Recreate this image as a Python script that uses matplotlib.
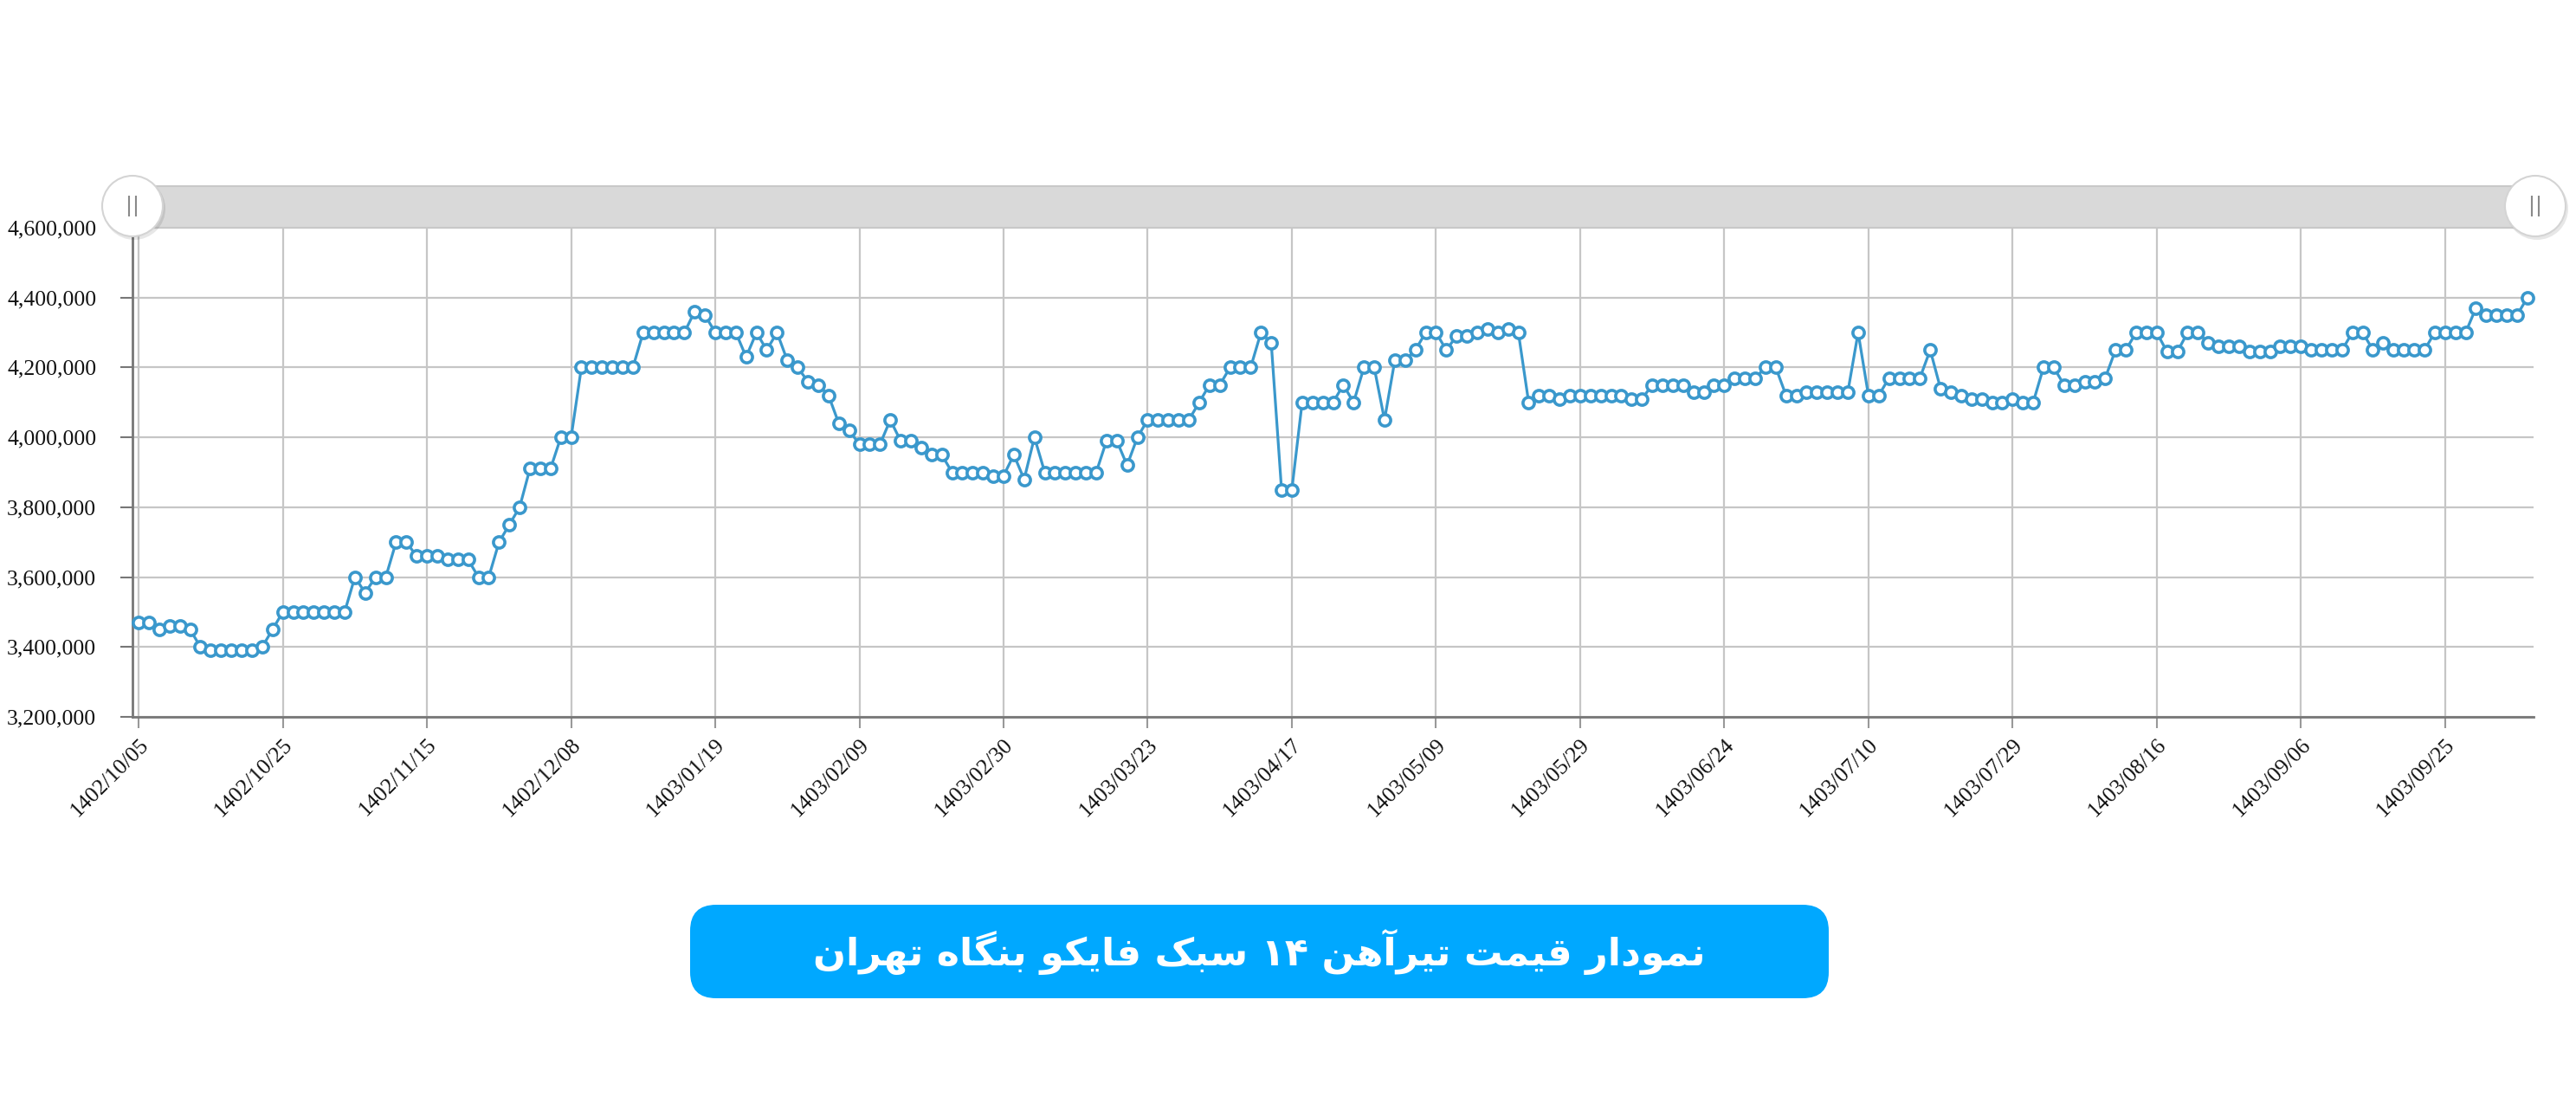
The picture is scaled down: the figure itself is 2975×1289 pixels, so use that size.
import matplotlib
matplotlib.use("Agg")
import matplotlib.pyplot as plt
from matplotlib.patches import Rectangle, Circle, FancyBboxPatch
from matplotlib.ticker import FuncFormatter, FixedLocator
import matplotlib.transforms as mtransforms

# ---------------- data (prices in Rials) ----------------
tick_labels = ['1402/10/05', '1402/10/25', '1402/11/15', '1402/12/08', '1403/01/19',
               '1403/02/09', '1403/02/30', '1403/03/23', '1403/04/17', '1403/05/09',
               '1403/05/29', '1403/06/24', '1403/07/10', '1403/07/29', '1403/08/16',
               '1403/09/06', '1403/09/25']
label_step = 14  # one labelled date every 14 trading days

prices_k = [
    3470, 3470, 3450, 3460, 3460, 3450, 3400, 3390, 3390, 3390, 3390, 3390, 3400, 3450,
    3500, 3500, 3500, 3500, 3500, 3500, 3500, 3600, 3555, 3600, 3600, 3700, 3700, 3660,
    3660, 3660, 3650, 3650, 3650, 3600, 3600, 3700, 3750, 3800, 3910, 3910, 3910, 4000,
    4000, 4200, 4200, 4200, 4200, 4200, 4200, 4300, 4300, 4300, 4300, 4300, 4360, 4350,
    4300, 4300, 4300, 4230, 4300, 4250, 4300, 4220, 4200, 4160, 4150, 4120, 4040, 4020,
    3980, 3980, 3980, 4050, 3990, 3990, 3970, 3950, 3950, 3900, 3900, 3900, 3900, 3890,
    3890, 3950, 3880, 4000, 3900, 3900, 3900, 3900, 3900, 3900, 3990, 3990, 3920, 4000,
    4050, 4050, 4050, 4050, 4050, 4100, 4150, 4150, 4200, 4200, 4200, 4300, 4270, 3850,
    3850, 4100, 4100, 4100, 4100, 4150, 4100, 4200, 4200, 4050, 4220, 4220, 4250, 4300,
    4300, 4250, 4290, 4290, 4300, 4310, 4300, 4310, 4300, 4100, 4120, 4120, 4110, 4120,
    4120, 4120, 4120, 4120, 4120, 4110, 4110, 4150, 4150, 4150, 4150, 4130, 4130, 4150,
    4150, 4170, 4170, 4170, 4200, 4200, 4120, 4120, 4130, 4130, 4130, 4130, 4130, 4300,
    4120, 4120, 4170, 4170, 4170, 4170, 4250, 4140, 4130, 4120, 4110, 4110, 4100, 4100,
    4110, 4100, 4100, 4200, 4200, 4150, 4150, 4160, 4160, 4170, 4250, 4250, 4300, 4300,
    4300, 4245, 4245, 4300, 4300, 4270, 4260, 4260, 4260, 4245, 4245, 4245, 4260, 4260,
    4260, 4250, 4250, 4250, 4250, 4300, 4300, 4250, 4270, 4250, 4250, 4250, 4250, 4300,
    4300, 4300, 4300, 4370, 4350, 4350, 4350, 4350, 4400,
]
prices = [p * 1000 for p in prices_k]

y_ticks = [3200000, 3400000, 3600000, 3800000, 4000000, 4200000, 4400000, 4600000]

title_text = "نمودار قیمت تیرآهن ۱۴ سبک فایکو بنگاه تهران"

# ---------------- simple Persian shaping (presentation forms + visual order) ----------------
FORMS = {
    '\u0627': ('\uFE8D', '\uFE8E', None, None),
    '\u0622': ('\uFE81', '\uFE82', None, None),
    '\u0628': ('\uFE8F', '\uFE90', '\uFE91', '\uFE92'),
    '\u062A': ('\uFE95', '\uFE96', '\uFE97', '\uFE98'),
    '\u062F': ('\uFEA9', '\uFEAA', None, None),
    '\u0631': ('\uFEAD', '\uFEAE', None, None),
    '\u0633': ('\uFEB1', '\uFEB2', '\uFEB3', '\uFEB4'),
    '\u0641': ('\uFED1', '\uFED2', '\uFED3', '\uFED4'),
    '\u0642': ('\uFED5', '\uFED6', '\uFED7', '\uFED8'),
    '\u0645': ('\uFEE1', '\uFEE2', '\uFEE3', '\uFEE4'),
    '\u0646': ('\uFEE5', '\uFEE6', '\uFEE7', '\uFEE8'),
    '\u0647': ('\uFEE9', '\uFEEA', '\uFEEB', '\uFEEC'),
    '\u0648': ('\uFEED', '\uFEEE', None, None),
    '\u06CC': ('\uFBFC', '\uFBFD', '\uFBFE', '\uFBFF'),
    '\u06A9': ('\uFB8E', '\uFB8F', '\uFB90', '\uFB91'),
    '\u06AF': ('\uFB92', '\uFB93', '\uFB94', '\uFB95'),
}


def shape_persian(s):
    out = []
    for i, c in enumerate(s):
        if c not in FORMS:
            out.append(c)
            continue
        prev = s[i - 1] if i > 0 else ''
        nxt = s[i + 1] if i + 1 < len(s) else ''
        jp = prev in FORMS and FORMS[prev][2] is not None
        jn = FORMS[c][2] is not None and nxt in FORMS
        iso, fin, ini, med = FORMS[c]
        if jp and jn:
            out.append(med)
        elif jp:
            out.append(fin)
        elif jn:
            out.append(ini)
        else:
            out.append(iso)
    vis = ''.join(out)[::-1]
    # keep digit runs left-to-right
    res, run = [], []
    for ch in vis:
        if ch.isdigit():
            run.append(ch)
        else:
            if run:
                res.extend(run[::-1])
                run = []
            res.append(ch)
    if run:
        res.extend(run[::-1])
    return ''.join(res)


# ---------------- figure ----------------
W, H = 2975, 1289
fig = plt.figure(figsize=(W / 100, H / 100), dpi=100)
fig.patch.set_facecolor('white')

left_px, right_px, bottom_px, top_px = 153, 2926, 828, 263
ax = fig.add_axes([left_px / W, 1 - bottom_px / H,
                   (right_px - left_px) / W, (bottom_px - top_px) / H])

x = list(range(len(prices)))
ax.plot(x, prices, color='#3a98cc', lw=2.3, marker='o', markersize=9.5,
        markerfacecolor='white', markeredgecolor='#3a98cc', markeredgewidth=2.6,
        zorder=3, clip_on=False)

ax.set_xlim(-0.6, 232.6)
ax.set_ylim(3200000, 4600000)

ax.yaxis.set_major_locator(FixedLocator(y_ticks))
ax.yaxis.set_major_formatter(FuncFormatter(lambda v, p: f"{int(v):,}"))
tick_pos = [i * label_step for i in range(len(tick_labels))]
ax.set_xticks(tick_pos)
ax.set_xticklabels(tick_labels, rotation=45, ha='right', va='top',
                   rotation_mode='anchor')

for lab in ax.get_xticklabels() + ax.get_yticklabels():
    lab.set_fontfamily('Liberation Serif')
    lab.set_fontsize(18.5)
    lab.set_color('#111111')

offset = mtransforms.ScaledTranslation(6 / 100, 0, fig.dpi_scale_trans)
for lab in ax.get_xticklabels():
    lab.set_transform(lab.get_transform() + offset)

ax.tick_params(axis='y', length=10, width=1.5, color='#777777', pad=20)
ax.tick_params(axis='x', length=9, width=1.5, color='#999999', pad=6)

ax.grid(True, color='#c6c6c6', lw=1.6, zorder=0)
for s in ['top', 'right']:
    ax.spines[s].set_visible(False)
for s in ['left', 'bottom']:
    ax.spines[s].set_color('#777777')
    ax.spines[s].set_linewidth(2)

# ---------------- overlay (scrollbar + title box) ----------------
ov = fig.add_axes([0, 0, 1, 1], zorder=5)
ov.set_xlim(0, W)
ov.set_ylim(H, 0)
ov.axis('off')
ov.patch.set_alpha(0)

ov.add_patch(Rectangle((153, 215), 2775, 48, facecolor='#d9d9d9',
                       edgecolor='#c8c8c8', lw=1.5))
for cx in (153, 2928):
    ov.add_patch(Circle((cx + 2, 241), 36, facecolor='#00000018', edgecolor='none'))
    ov.add_patch(Circle((cx, 238), 35, facecolor='white', edgecolor='#d4d4d4', lw=1.5))
    for dx in (-4, 4):
        ov.plot([cx + dx, cx + dx], [226, 250], color='#8a8a8a', lw=1.5,
                solid_capstyle='butt')

ov.add_patch(FancyBboxPatch((797, 1045), 1315, 108,
                            boxstyle='round,pad=0,rounding_size=30',
                            facecolor='#00a8ff', edgecolor='none'))
ov.text(1454, 1099, shape_persian(title_text), color='white', fontsize=32,
        fontweight='bold', ha='center', va='center',
        family=['DejaVu Sans', 'Noto Sans'])

fig.savefig('out.png', dpi=100, facecolor='white')
